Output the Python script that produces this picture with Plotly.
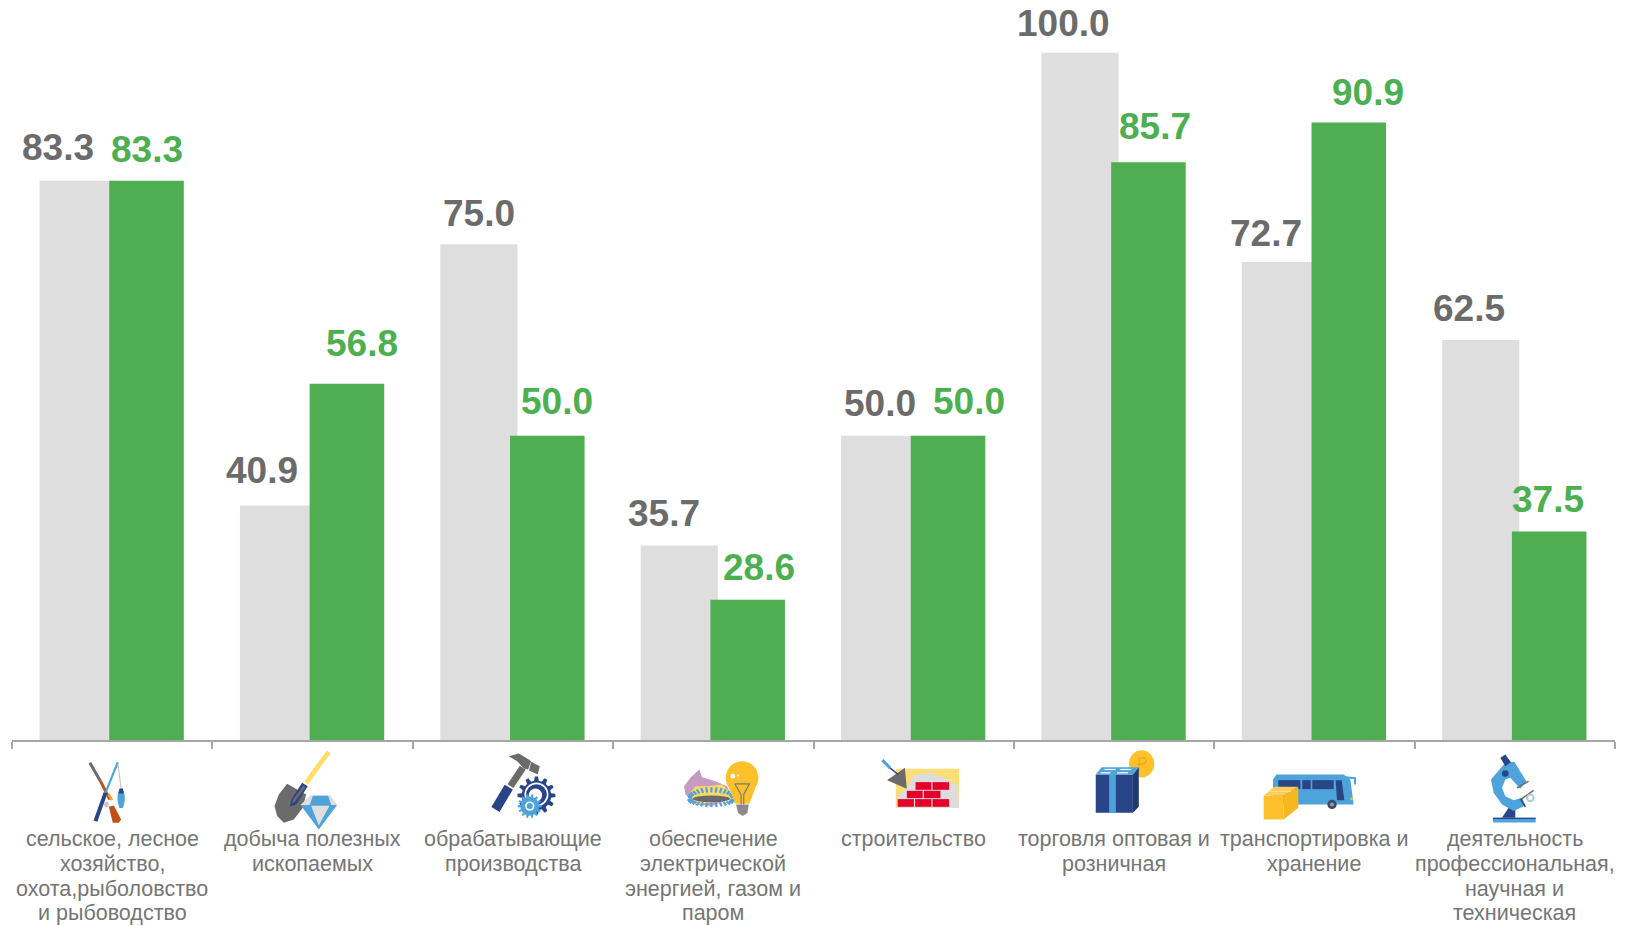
import math
import plotly.graph_objects as go

# ---------- data ----------
categories = [
    "сельское, лесное<br>хозяйство,<br>охота,рыболовство<br>и рыбоводство",
    "добыча полезных<br>ископаемых",
    "обрабатывающие<br>производства",
    "обеспечение<br>электрической<br>энергией, газом и<br>паром",
    "строительство",
    "торговля оптовая и<br>розничная",
    "транспортировка и<br>хранение",
    "деятельность<br>профессиональная,<br>научная и<br>техническая",
]
gray_values = [83.3, 40.9, 75.0, 35.7, 50.0, 100.0, 72.7, 62.5]
green_values = [83.3, 56.8, 50.0, 28.6, 50.0, 85.7, 90.9, 37.5]

# label nudges, pixels
gray_dx = [-20, -17, 0, -15, 0, -17, -14, -12]
gray_gap = [33, 35, 31, 32, 32, 29, 28, 32]
green_dx = [0, 15, 10, 11, 21, 7, 19, -1]
green_gap = [31, 40, 34, 32, 34, 36, 30, 32]

# ---------- style ----------
W, H = 1634, 926
ML, MR, MT, MB = 11.5, 19.3, 0, 185.5
FONT = "Liberation Sans, Arial, sans-serif"
GRAY_BAR, GREEN_BAR = "#DEDEDE", "#4FAE52"
GRAY_TXT, GREEN_TXT, LABEL_TXT = "#6B6B6B", "#4CAF50", "#757575"
BLUE, NAVY, YEL, LYEL, DGRAY = "#4EA3DB", "#2A4488", "#FFC12B", "#FFDD77", "#6B6B6B"
GRAY_OFF, GRAY_W = -0.3625, 0.385
GREEN_OFF, GREEN_W = -0.0145, 0.372
LABEL_Y0, LABEL_DY = 840, 24.7

fig = go.Figure()
fig.add_bar(x=categories, y=gray_values, offset=GRAY_OFF, width=GRAY_W,
            marker=dict(color=GRAY_BAR, line=dict(width=0)), showlegend=False)
fig.add_bar(x=categories, y=green_values, offset=GREEN_OFF, width=GREEN_W,
            marker=dict(color=GREEN_BAR, line=dict(width=0)), showlegend=False)

def px(x, y):
    return (x - ML) / (W - ML - MR), (H - MB - y) / (H - MB - MT)

annotations = []
for i in range(len(categories)):
    annotations.append(dict(x=i + GRAY_OFF + GRAY_W / 2, y=gray_values[i], xref="x", yref="y",
                            text=f"{gray_values[i]:.1f}", showarrow=False,
                            xshift=gray_dx[i], yshift=gray_gap[i],
                            font=dict(family=FONT, size=37, color=GRAY_TXT, weight="bold")))
    annotations.append(dict(x=i + GREEN_OFF + GREEN_W / 2, y=green_values[i], xref="x", yref="y",
                            text=f"{green_values[i]:.1f}", showarrow=False,
                            xshift=green_dx[i], yshift=green_gap[i],
                            font=dict(family=FONT, size=37, color=GREEN_TXT, weight="bold")))
    for n, line in enumerate(categories[i].split("<br>")):
        annotations.append(dict(x=i, y=px(0, LABEL_Y0 + n * LABEL_DY)[1], xref="x", yref="paper",
                                text=line, showarrow=False, yanchor="middle",
                                font=dict(family=FONT, size=21.5, color=LABEL_TXT)))

# ---------- icons (decoration drawn as shapes, pixel positions converted to paper) ----------
shapes = []

class Ic:
    def __init__(self, ox, oy, kx=3, ky=3):
        self.ox, self.oy, self.kx, self.ky = ox, oy, kx, ky
    def t(self, p):
        return px(self.ox + p[0] / self.kx, self.oy + p[1] / self.ky)
    def path(self, pts, close):
        q = [self.t(p) for p in pts]
        return "M" + " L".join(f"{a:.5f},{b:.5f}" for a, b in q) + (" Z" if close else "")
    def poly(self, pts, fill):
        shapes.append(dict(type="path", xref="paper", yref="paper", path=self.path(pts, True),
                           fillcolor=fill, line=dict(width=0), layer="above"))
    def line(self, pts, color, w):
        shapes.append(dict(type="path", xref="paper", yref="paper", path=self.path(pts, False),
                           line=dict(color=color, width=w), layer="above"))
    def ell(self, cx, cy, rx, ry, fill):
        a = self.t((cx - rx, cy - ry)); b = self.t((cx + rx, cy + ry))
        shapes.append(dict(type="circle", xref="paper", yref="paper", x0=a[0], y0=b[1], x1=b[0], y1=a[1],
                           fillcolor=fill, line=dict(width=0), layer="above"))
    def gear(self, cx, cy, r, teeth, fill):
        pts = []
        for n in range(teeth):
            for da, rr in ((-0.3, .78), (-0.16, 1), (0.16, 1), (0.3, .78)):
                a = 2 * math.pi * (n + da) / teeth
                pts.append((cx + r * rr * math.cos(a), cy + r * rr * math.sin(a)))
        self.poly(pts, fill)

z2 = Ic(610, 730, 2.53, 3)
z3 = Ic(1200, 730, 3, 3)

# 1 fishing / hunting
a = Ic(80, 750)
a.line([(28, 40), (60, 95)], DGRAY, 3)
a.line([(60, 95), (88, 150)], "#C0501A", 3)
a.line([(84, 135), (95, 152)], "#F0A030", 2.5)
a.poly([(85, 172), (100, 168), (122, 210), (115, 220), (97, 220)], "#C0501A")
a.line([(112, 38), (75, 130)], BLUE, 2.2)
a.line([(75, 130), (45, 215)], NAVY, 4)
a.line([(112, 38), (122, 120)], "#BDBDBD", 1)
a.ell(122, 146, 11, 28, BLUE)
a.poly([(114, 132), (130, 132), (127, 117), (117, 117)], NAVY)
a.poly([(114, 166), (130, 166), (127, 176), (117, 176)], BLUE)
a.ell(78, 165, 7, 9, "#C9C9C9")

# 2 shovel and diamond
b = Ic(265, 745)
b.line([(190, 22), (122, 115)], "#FFDD66", 4.7)
b.poly([(65, 118), (95, 135), (122, 150), (112, 190), (85, 225), (55, 235), (35, 215), (27, 185), (40, 150)], DGRAY)
b.poly([(110, 115), (127, 125), (92, 180), (73, 186), (78, 165)], NAVY)
b.poly([(113, 124), (120, 128), (88, 172), (80, 176), (83, 165)], DGRAY)
b.poly([(105, 182), (135, 152), (195, 152), (215, 182)], "#DEDEDE")
b.poly([(142, 154), (188, 154), (197, 182), (133, 182)], BLUE)
b.poly([(105, 182), (215, 182), (160, 255)], BLUE)
b.poly([(137, 184), (192, 184), (160, 243)], "#DEDEDE")

# 3 hammer and gears
c = Ic(480, 745)
c.poly([(85, 35), (115, 27), (145, 45), (152, 50), (143, 75), (130, 72), (110, 50)], DGRAY)
c.poly([(152, 52), (178, 65), (172, 90), (146, 78)], DGRAY)
c.line([(127, 70), (90, 125)], DGRAY, 7)
c.line([(85, 128), (45, 195)], NAVY, 9.5)
c.gear(168, 153, 57, 12, NAVY)
c.ell(168, 150, 36, 36, "#FFFFFF")
c.ell(168, 150, 31, 31, NAVY)
c.ell(165, 152, 20, 20, "#FFFFFF")
c.gear(148, 185, 36, 14, BLUE)
c.ell(148, 185, 14, 14, "#FFFFFF")
c.ell(148, 185, 9, 9, BLUE)

# 4 gas burner and bulb
d = Ic(675, 755)
d.poly([(72, 45), (80, 68), (120, 80), (155, 95), (170, 130), (110, 155), (60, 150), (30, 120), (26, 95), (45, 70)], "#C79BBF")
d.poly([(45, 115), (60, 95), (95, 95), (140, 90), (165, 115), (170, 135), (60, 150)], "#FFD966")
for n in range(15):
    t = math.pi * (1 + n / 14)
    d.line([(108 + 58 * math.cos(t), 128 + 14 * math.sin(t)),
            (108 + 70 * math.cos(t), 128 + 30 * math.sin(t))], BLUE, 2.2)
    t = math.pi * n / 14
    d.line([(108 + 58 * math.cos(t), 136 + 8 * math.sin(t)),
            (108 + 72 * math.cos(t), 136 + 22 * math.sin(t))], BLUE, 2.2)
d.ell(108, 133, 56, 10, DGRAY)
d.poly([(160, 100), (240, 100), (222, 148), (180, 148)], YEL)
d.ell(200, 70, 49, 50, YEL)
d.ell(172, 65, 7, 7, "#FFFFFF")
d.ell(188, 63, 3, 3, "#FFFFFF")
d.line([(178, 88), (222, 88), (205, 120), (205, 150)], "#7A7A7A", 1.2)
d.line([(178, 88), (197, 120), (197, 150)], "#7A7A7A", 1.2)
d.poly([(182, 150), (220, 150), (216, 176), (202, 185), (188, 176)], "#8A8A8A")

# 5 brick wall
z2.poly([(722, 118), (882, 118), (882, 235), (722, 235)], LYEL)
z2.poly([(750, 175), (768, 138), (810, 130), (850, 148), (880, 170), (882, 235), (725, 235), (725, 200)], "#DDDDDD")
for y0, y1, spans in ((158, 181, ((772, 812), (815, 857))),
                      (184, 206, ((750, 790), (793, 835))),
                      (209, 232, ((727, 768), (771, 812), (815, 857)))):
    for x0, x1 in spans:
        z2.poly([(x0, y0), (x1, y0), (x1, y1), (x0, y1)], "#E4002B")
z2.poly([(745, 115), (700, 152), (750, 178)], DGRAY)
z2.line([(688, 92), (708, 116)], BLUE, 3)
z2.line([(708, 116), (728, 135)], NAVY, 1.5)

# 6 parcel and coin
z2.ell(1344, 103, 32, 41, YEL)
z2.line([(1338, 125), (1338, 85), (1352, 85), (1356, 95), (1350, 104), (1332, 104)], "#E9A820", 1.2)
z2.poly([(1228, 135), (1322, 135), (1322, 250), (1228, 250)], NAVY)
z2.poly([(1322, 135), (1337, 113), (1337, 232), (1322, 250)], "#1F3A70")
z2.poly([(1228, 135), (1243, 113), (1337, 113), (1322, 135)], BLUE)
z2.poly([(1262, 135), (1279, 135), (1279, 250), (1262, 250)], BLUE)
z2.line([(1250, 120), (1278, 120)], "#FFFFFF", 1.2)
z2.line([(1290, 120), (1318, 120)], "#FFFFFF", 1.2)
z2.line([(1240, 130), (1265, 130)], "#FFFFFF", 1.2)
z2.line([(1282, 130), (1310, 130)], "#FFFFFF", 1.2)

# 7 bus and box
z3.poly([(218, 150), (228, 135), (430, 135), (450, 150), (460, 225), (218, 225)], BLUE)
z3.poly([(234, 152), (300, 152), (300, 179), (234, 179)], NAVY)
z3.poly([(306, 152), (331, 152), (331, 179), (306, 179)], NAVY)
z3.poly([(336, 152), (400, 152), (400, 179), (336, 179)], NAVY)
z3.poly([(406, 152), (424, 152), (432, 212), (410, 212)], NAVY)
z3.line([(432, 143), (464, 146), (464, 165)], BLUE, 2)
z3.ell(395, 225, 14, 14, "#3C4A6E")
z3.ell(395, 225, 6, 6, "#9A9A9A")
z3.ell(454, 208, 4, 4, YEL)
z3.poly([(190, 198), (250, 198), (250, 270), (190, 270)], YEL)
z3.poly([(190, 198), (222, 172), (294, 172), (250, 198)], "#FFCF55")
z3.poly([(250, 198), (294, 172), (294, 235), (250, 270)], "#F5B820")
z3.line([(206, 186), (272, 186)], "#F2E2B0", 0.8)

# 8 microscope
z3.poly([(878, 265), (1006, 265), (1006, 279), (878, 279)], BLUE)
z3.poly([(878, 265), (1006, 265), (1006, 269), (878, 269)], NAVY)
z3.poly([(905, 265), (925, 235), (945, 235), (945, 265)], NAVY)
z3.poly([(872, 150), (915, 100), (942, 97), (978, 155), (960, 178), (930, 145), (915, 150), (905, 175),
         (915, 200), (940, 212), (965, 205), (975, 228), (940, 245), (905, 225), (880, 190)], BLUE)
z3.poly([(900, 85), (915, 75), (932, 98), (915, 110)], NAVY)
z3.ell(915, 132, 10, 10, NAVY)
z3.line([(950, 175), (985, 155)], DGRAY, 1.5)
z3.line([(958, 212), (1000, 183)], DGRAY, 1.5)
z3.line([(962, 210), (975, 232)], NAVY, 1.5)
z3.ell(990, 205, 13, 13, "#A9C8DE")
z3.ell(990, 205, 7, 7, "#FFFFFF")

# ---------- layout ----------
fig.update_layout(
    width=W, height=H, autosize=False,
    margin=dict(l=ML, r=MR, t=MT, b=MB, pad=0),
    barmode="overlay", plot_bgcolor="#FFFFFF", paper_bgcolor="#FFFFFF",
    showlegend=False, annotations=annotations, shapes=shapes,
    xaxis=dict(type="category", categoryorder="array", categoryarray=categories,
               range=[-0.5, 7.5], tickson="boundaries", ticks="outside", ticklen=7, tickwidth=1.5,
               tickcolor="#A6A6A6", showline=True, linecolor="#A6A6A6", linewidth=1.5,
               showgrid=False, zeroline=False, showticklabels=False),
    yaxis=dict(range=[10.3, 106.88], visible=False, showgrid=False, zeroline=False),
)
fig.write_html("out.html", config=dict(displayModeBar=False),
               post_script="document.body.style.margin='0';document.body.style.overflow='hidden';")
